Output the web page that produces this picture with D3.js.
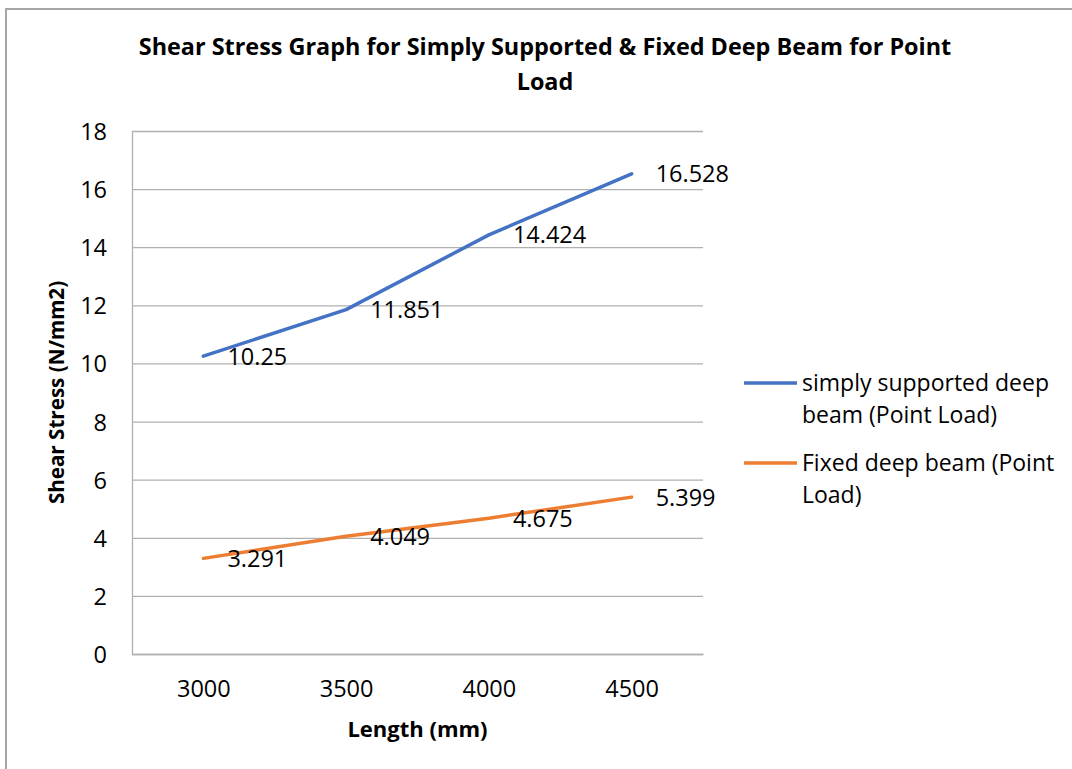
<!DOCTYPE html>
<html>
<head>
<meta charset="utf-8">
<script src="https://cdn.jsdelivr.net/npm/d3@7"></script>
<style>
  body { margin: 0; background: #fff; }
  text { font-family: "Open Sans", sans-serif; fill: #000; }
</style>
</head>
<body>
<div id="chart"></div>
<script>
// data
const lengths = ["3000", "3500", "4000", "4500"];
const simplySupported = [10.25, 11.851, 14.424, 16.528];
const fixedBeam = [3.291, 4.049, 4.675, 5.399];
const yTicks = [0, 2, 4, 6, 8, 10, 12, 14, 16, 18];
const seriesNames = ["simply supported deep beam (Point Load)", "Fixed deep beam (Point Load)"];
const legendLines = [["simply supported deep", "beam (Point Load)"], ["Fixed deep beam (Point", "Load)"]];
const titleLines = ["Shear Stress Graph for Simply Supported & Fixed Deep Beam for Point", "Load"];

const W = 1072, H = 769;
const plot = { left: 132, right: 703, top: 131, bottom: 654 };
const colors = ["#4472c4", "#ed7d31"];
const gridColor = "#b0b0b0";
const fs = 23.5;

var svg = d3.select("#chart")
  .append("svg")
  .attr("width", W)
  .attr("height", H)

// chart frame (only top and left edges show)
svg.append("rect")
  .attr("x", 6)
  .attr("y", 9)
  .attr("width", W + 20)
  .attr("height", H + 20)
  .attr("fill", "#fff")
  .attr("stroke", "#a6a6a6")
  .attr("stroke-width", 2)

var x = d3.scalePoint()
  .domain(lengths)
  .range([plot.left, plot.right])
  .padding(0.5);

var y = d3.scaleLinear()
  .domain([0, 18])
  .range([plot.bottom, plot.top]);

// Y axis + gridlines
var gy = svg.append("g")
  .attr("transform", "translate(" + plot.left + ",0)")
  .call(d3.axisLeft(y)
    .tickValues(yTicks)
    .tickSize(-(plot.right - plot.left))
    .tickSizeOuter(0)
    .tickPadding(25))
gy.selectAll("line").attr("stroke", gridColor).attr("stroke-width", 1.3)
gy.select("path.domain").attr("stroke", gridColor).attr("stroke-width", 1.3)
gy.selectAll("text")
  .style("font-size", fs + "px")
  .style("font-family", "'Open Sans', sans-serif")
  .attr("dy", "0.36em")

// X axis
var gx = svg.append("g")
  .attr("transform", "translate(0," + plot.bottom + ")")
  .call(d3.axisBottom(x)
    .tickSize(0)
    .tickSizeOuter(0)
    .tickPadding(26))
gx.select("path.domain").attr("stroke", gridColor).attr("stroke-width", 1.3)
gx.selectAll("text")
  .style("font-size", fs + "px")
  .style("font-family", "'Open Sans', sans-serif")

// series lines
var line = d3.line()
  .x((d, i) => x(lengths[i]))
  .y(d => y(d))

var allSeries = [simplySupported, fixedBeam];

svg.selectAll("path.series")
  .data(allSeries)
  .enter()
  .append("path")
  .attr("class", "series")
  .attr("d", d => line(d))
  .attr("fill", "none")
  .attr("stroke", (d, i) => colors[i])
  .attr("stroke-width", 3.5)
  .attr("stroke-linecap", "round")
  .attr("stroke-linejoin", "round")

// data labels, to the right of each point
allSeries.forEach(function(s) {
  svg.selectAll(null)
    .data(s)
    .enter()
    .append("text")
    .attr("x", (d, i) => x(lengths[i]) + 24)
    .attr("y", d => y(d))
    .attr("dy", "0.36em")
    .style("font-size", fs + "px")
    .text(d => d)
})

// title
svg.selectAll("text.title")
  .data(titleLines)
  .enter()
  .append("text")
  .attr("class", "title")
  .attr("x", 545)
  .attr("y", (d, i) => 55 + i * 35)
  .attr("text-anchor", "middle")
  .style("font-size", "23.4px")
  .style("font-weight", "bold")
  .text(d => d)

// axis titles
svg.append("text")
  .attr("x", (plot.left + plot.right) / 2)
  .attr("y", 737)
  .attr("text-anchor", "middle")
  .style("font-size", "22px")
  .style("font-weight", "bold")
  .text("Length (mm)")

svg.append("text")
  .attr("transform", "translate(64," + (plot.top + plot.bottom) / 2 + ") rotate(-90)")
  .attr("text-anchor", "middle")
  .style("font-size", "20.6px")
  .style("font-weight", "bold")
  .text("Shear Stress (N/mm2)")

// legend
var legendY = [383, 463];
var leg = svg.selectAll("g.legend")
  .data(seriesNames)
  .enter()
  .append("g")
  .attr("class", "legend")
  .attr("transform", (d, i) => "translate(744," + legendY[i] + ")")

leg.append("line")
  .attr("x1", 0)
  .attr("x2", 53)
  .attr("stroke", (d, i) => colors[i])
  .attr("stroke-width", 3.5)

leg.each(function(d, i) {
  d3.select(this).selectAll("text")
    .data(legendLines[i])
    .enter()
    .append("text")
    .attr("x", 58)
    .attr("y", (t, j) => 8 + j * 32)
    .style("font-size", "23px")
    .text(t => t)
})
</script>
</body>
</html>
